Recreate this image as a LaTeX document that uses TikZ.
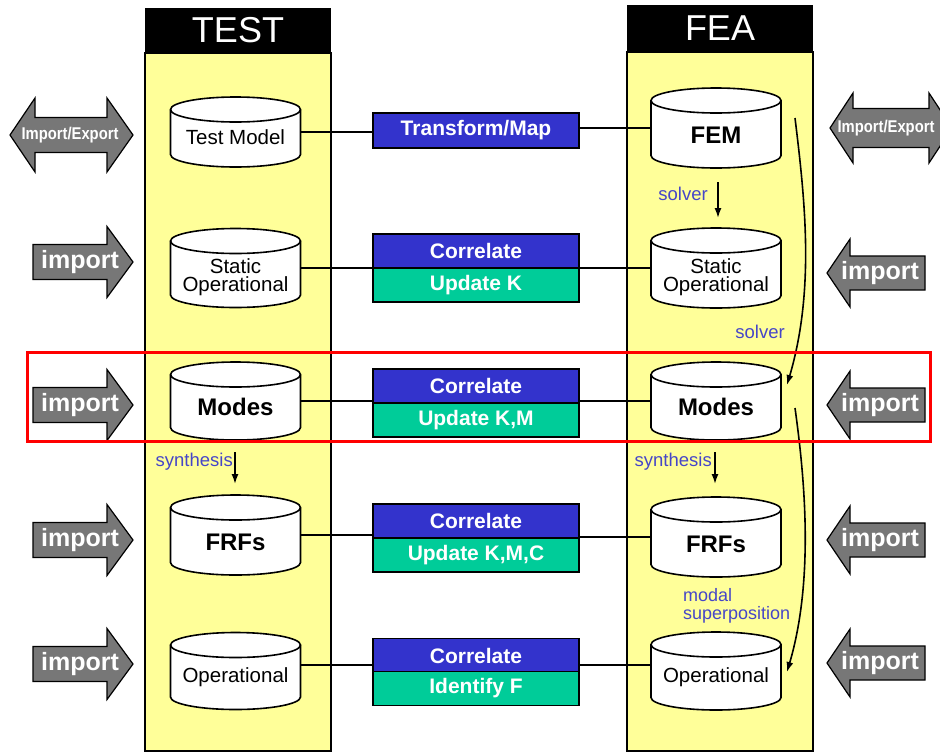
\documentclass[tikz,border=0pt]{standalone}
\usepackage{fontspec}
\setmainfont{Liberation Sans}
\usetikzlibrary{arrows.meta}
\definecolor{colyellow}{HTML}{FFFF99}
\definecolor{boxblue}{HTML}{3333CC}
\definecolor{boxgreen}{HTML}{00CC99}
\definecolor{arrgray}{HTML}{777777}
\definecolor{lblblue}{HTML}{4646C8}
\definecolor{framered}{HTML}{FF0000}

\newcommand\dbcyl[4]{%
  \node[cylbox, minimum height=#4pt] (#1) at (#2,#3) {};
  \draw[cylline] ([yshift=-12.5pt]#1.north west) -- ([yshift=12.5pt]#1.south west)
     arc[start angle=180, end angle=360, x radius=65pt, y radius=12.5pt]
     -- ([yshift=-12.5pt]#1.north east)
     arc[start angle=0, end angle=180, x radius=65pt, y radius=12.5pt] -- cycle;
  \draw[line width=1.6pt] ([yshift=-12.5pt]#1.north west)
     arc[start angle=180, end angle=360, x radius=65pt, y radius=12.5pt];
}
\newcommand\leftimp[2]{%
  \draw[imparrow] (33,#2) ++(0,-17.5) -- ++(74,0) -- ++(0,-18) -- ++(26,35.5)
     -- ++(-26,35.5) -- ++(0,-18) -- ++(-74,0) -- cycle;
  \node[imptext] (#1) at (80,#2) {import};
}
\newcommand\rightimp[2]{%
  \draw[imparrow] (925,#2) ++(0,-17) -- ++(-75,0) -- ++(0,-17) -- ++(-23,34)
     -- ++(23,34) -- ++(0,-17) -- ++(75,0) -- cycle;
  \node[imptext] (#1) at (880,#2) {import};
}

\begin{document}
\begin{tikzpicture}[x=1pt,y=-1pt,
  cylbox/.style={minimum width=130pt, inner sep=0pt, outer sep=0pt},
  cylline/.style={line width=1.6pt, fill=white},
  cyltext/.style={font=\fontsize{20.5}{18.5}\selectfont, align=center, inner sep=0pt},
  cylbold/.style={font=\fontsize{24}{24}\selectfont\bfseries, inner sep=0pt},
  boxbase/.style={draw=black, line width=1.6pt, minimum width=206pt, minimum height=34pt,
     inner sep=0pt, text=white, font=\fontsize{21}{21}\selectfont\bfseries},
  bluebox/.style={boxbase, fill=boxblue},
  greenbox/.style={boxbase, fill=boxgreen},
  imparrow/.style={fill=arrgray, draw=black, line width=1.2pt, line join=miter},
  imptext/.style={text=white, font=\fontsize{25}{25}\selectfont\bfseries, inner sep=0pt},
  ietext/.style={text=white, inner sep=0pt},
  lbl/.style={text=lblblue, font=\fontsize{18.5}{16}\selectfont, inner sep=0pt, align=left},
  conn/.style={line width=1.8pt},
  flow/.style={line width=1.6pt, -{Latex[length=10pt,width=7pt]}},
  header/.style={fill=black, text=white, minimum width=186pt, inner sep=0pt,
     font=\fontsize{36}{36}\selectfont},
  column/.style={fill=colyellow, draw=black, line width=1.6pt}
]
\useasboundingbox (0,0) rectangle (940,753);
\clip (0,0) rectangle (940,753);
\fill[white] (0,0) rectangle (940,753);

% columns
\draw[column] (145,53) rectangle (331,751);
\draw[column] (627,52) rectangle (813,751);
\node[header, minimum height=45pt] (testh) at (238,30.5) {TEST};
\node[header, minimum height=47pt] (feah) at (720,28.5) {FEA};

% center boxes
\node[bluebox, minimum height=35pt] (b1) at (476,130.5) {Transform/Map};
\node[bluebox] (c2) at (476,251) {Correlate};
\node[greenbox] (u2) at (476,285) {Update K};
\node[bluebox] (c3) at (476,386) {Correlate};
\node[greenbox] (u3) at (476,420) {Update K,M};
\node[bluebox] (c4) at (476,521) {Correlate};
\node[greenbox] (u4) at (476,555) {Update K,M,C};
\node[bluebox] (c5) at (476,655.5) {Correlate};
\node[greenbox] (u5) at (476,688.5) {Identify F};

% TEST cylinders
\dbcyl{tm}{235.5}{132}{70}
\node[cyltext] (tm-l) at ([yshift=-5pt]tm.center) {Test Model};
\dbcyl{ts}{235.5}{268}{79}
\node[cyltext] (ts-l) at ([yshift=-9pt]ts.center) {Static\\Operational};
\dbcyl{tmo}{235.5}{401}{78}
\node[cylbold] (tmo-l) at ([yshift=-6pt]tmo.center) {Modes};
\dbcyl{tf}{235.5}{535}{80}
\node[cylbold] (tf-l) at ([yshift=-7pt]tf.center) {FRFs};
\dbcyl{to}{235.5}{671}{77}
\node[cyltext] (to-l) at ([yshift=-6pt]to.center) {Operational};

% FEA cylinders
\dbcyl{fem}{716}{128}{80}
\node[cylbold] (fem-l) at ([yshift=-7pt]fem.center) {FEM};
\dbcyl{fs}{716}{268}{80}
\node[cyltext] (fs-l) at ([yshift=-9pt]fs.center) {Static\\Operational};
\dbcyl{fmo}{716}{401}{78}
\node[cylbold] (fmo-l) at ([yshift=-6pt]fmo.center) {Modes};
\dbcyl{ff}{716}{537}{80}
\node[cylbold] (ff-l) at ([yshift=-7pt]ff.center) {FRFs};
\dbcyl{fo}{716}{671}{78}
\node[cyltext] (fo-l) at ([yshift=-6pt]fo.center) {Operational};

% connectors
\draw[conn] (tm.east) -- (tm.east -| b1.west);
\draw[conn] (b1.east |- fem.west) -- (fem.west);
\draw[conn] (ts.east) -- (ts.east -| c2.west);
\draw[conn] (c2.east |- fs.west) -- (fs.west);
\draw[conn] (tmo.east) -- (tmo.east -| c3.west);
\draw[conn] (c3.east |- fmo.west) -- (fmo.west);
\draw[conn] (tf.east) -- (tf.east -| c4.west);
\draw[conn] (c4.east |- ff.west) -- (ff.west);
\draw[conn] ([yshift=6pt]to.east) -- ([yshift=6pt]to.east -| c5.west);
\draw[conn] ([yshift=6pt]c5.east |- fo.west) -- ([yshift=6pt]fo.west);

% labels and small arrows
\node[lbl, anchor=east] (sol1) at (708,194) {solver};
\coordinate (sol1a) at (718,182);
\coordinate (sol1b) at (718,218);
\draw[flow] (sol1a) -- (sol1b);
\node[lbl, anchor=east] (sol2) at (785,332) {solver};
\node[lbl, anchor=east] (syn1) at (233,462) {synthesis};
\coordinate (syn1a) at (235,452);
\coordinate (syn1b) at (235,484);
\draw[flow] (syn1a) -- (syn1b);
\node[lbl, anchor=east] (syn2) at (712,462) {synthesis};
\coordinate (syn2a) at (715,452);
\coordinate (syn2b) at (715,484);
\draw[flow] (syn2a) -- (syn2b);
\node[lbl, anchor=west, font=\fontsize{18}{18.5}\selectfont] (msp) at (683,606) {modal\\superposition};

% curved solver arrows
\coordinate (cv1a) at (795,118);
\coordinate (cv1b) at (787,385);
\draw[flow] (cv1a) .. controls (805,200) and (815,290) .. (cv1b);
\coordinate (cv2a) at (795,408);
\coordinate (cv2b) at (787,672);
\draw[flow] (cv2a) .. controls (805,480) and (814,580) .. (cv2b);

% import / export arrows
\draw[imparrow] (10,135) -- (35,98) -- (35,117.5) -- (107,117.5) -- (107,98) -- (133,135)
   -- (107,172) -- (107,152.5) -- (35,152.5) -- (35,172) -- cycle;
\node[ietext] (ie1) at (70,135) {\scalebox{0.87}[1]{\fontsize{17}{17}\selectfont\bfseries Import/Export}};
\draw[imparrow] (830,128) -- (853,93) -- (853,108.5) -- (929,108.5) -- (929,93) -- (952,128)
   -- (929,163) -- (929,147.5) -- (853,147.5) -- (853,163) -- cycle;
\node[ietext] (ie2) at (886,128) {\scalebox{0.87}[1]{\fontsize{17}{17}\selectfont\bfseries Import/Export}};

\leftimp{il2}{262}
\leftimp{il3}{405}
\leftimp{il4}{540}
\leftimp{il5}{664}
\rightimp{ir2}{273}
\rightimp{ir3}{405}
\rightimp{ir4}{540}
\rightimp{ir5}{663}

% highlight frame
\draw[framered, line width=3pt] (27,352) rectangle (930,441);
\end{tikzpicture}
\end{document}
